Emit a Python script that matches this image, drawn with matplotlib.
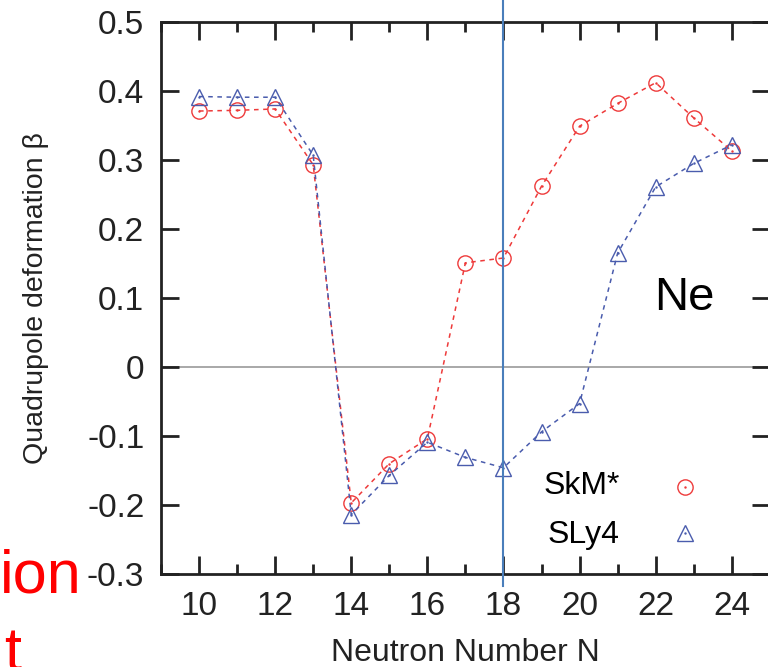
import matplotlib
matplotlib.use('Agg')
import matplotlib.pyplot as plt
from matplotlib.ticker import MultipleLocator

plt.rcParams['font.family'] = ['Liberation Sans', 'DejaVu Sans']

neutrons = [10, 11, 12, 13, 14, 15, 16, 17, 18, 19, 20, 21, 22, 23, 24]
skm = [0.371, 0.372, 0.374, 0.293, -0.197, -0.140, -0.104, 0.151, 0.158,
       0.262, 0.349, 0.382, 0.412, 0.361, 0.313]
sly4 = [0.392, 0.391, 0.391, 0.307, -0.214, -0.157, -0.109, -0.131, -0.146,
        -0.094, -0.053, 0.165, 0.261, 0.295, 0.322]
xticks = [10, 12, 14, 16, 18, 20, 22, 24]
yticks = [-0.3, -0.2, -0.1, 0, 0.1, 0.2, 0.3, 0.4, 0.5]
ytick_labels = ['-0.3', '-0.2', '-0.1', '0', '0.1', '0.2', '0.3', '0.4', '0.5']

red = '#ee3a3a'
blue = '#4a5cad'

fig = plt.figure(figsize=(7.68, 6.67), dpi=100)
ax = fig.add_axes([0.2096, 0.1394, 0.7928, 0.8276])

ax.axhline(0, color='#999999', lw=1.2, zorder=1)

ax.plot(neutrons, skm, ls=(0, (3, 3)), color=red, lw=1.1,
        marker='o', ms=11, mfc='none', mec=red, mew=1.0)
ax.plot(neutrons, sly4, ls=(0, (3, 3)), color=blue, lw=1.1,
        marker='^', ms=11, mfc='none', mec=blue, mew=1.0)
ax.plot(neutrons, skm, ls='none', marker='.', ms=1.5, color=red)
ax.plot(neutrons, sly4, ls='none', marker='.', ms=1.5, color=blue)

# legend drawn like gnuplot's key
ax.text(21.05, -0.172, 'SkM*', fontsize=23, ha='right', va='center')
ax.text(21.05, -0.243, 'SLy4', fontsize=23, ha='right', va='center')
ax.plot([22.77], [-0.174], marker='o', ms=11, mfc='none', mec=red, mew=1.0)
ax.plot([22.77], [-0.241], marker='^', ms=11, mfc='none', mec=blue, mew=1.0)
ax.plot([22.77], [-0.174], ls='none', marker='.', ms=1.5, color=red)
ax.plot([22.77], [-0.241], ls='none', marker='.', ms=1.5, color=blue)

ax.text(22.74, 0.1, 'Ne', fontsize=34, ha='center', va='center')

ax.set_xlim(9, 25)
ax.set_ylim(-0.3, 0.5)
ax.set_xticks(xticks)
ax.xaxis.set_minor_locator(MultipleLocator(1))
ax.set_yticks(yticks)
ax.set_yticklabels(ytick_labels)
ax.tick_params(which='both', direction='in', top=True, right=True, width=2, color='#222222')
ax.tick_params(which='major', length=13, labelsize=24, pad=12, labelcolor='#222222')
ax.tick_params(which='minor', length=7)
for s in ax.spines.values():
    s.set_linewidth(2)
    s.set_color('#222222')

ax.set_xlabel('Neutron Number N', fontsize=23, labelpad=12, color='#222222')
ax.set_ylabel('Quadrupole deformation β', fontsize=20.5, labelpad=27, color='#222222')

# slide overlay: vertical marker line at N = 18 and cut-off red text
ax.plot([18, 18], [-0.317, 0.532], color='#4a7ebb', lw=1.5, clip_on=False, zorder=5)
fig.text(0.0, 0.111, 'ion', fontsize=44, color='red', ha='left', va='baseline')
fig.text(0.005, -0.005, 't', fontsize=44, color='red', ha='left', va='baseline')

fig.savefig('out.png', dpi=100)
